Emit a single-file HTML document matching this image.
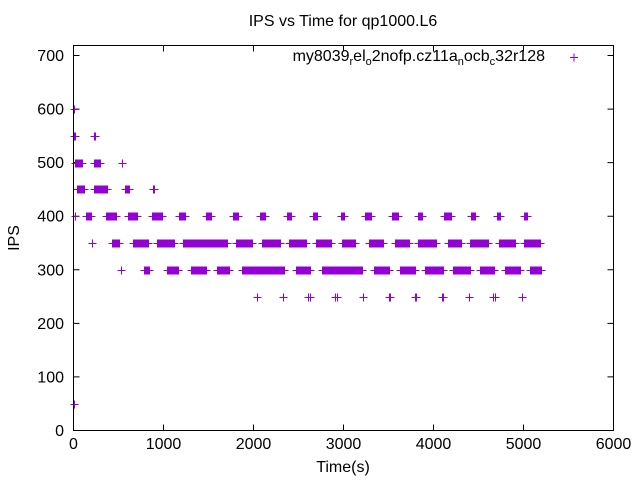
<!DOCTYPE html>
<html><head><meta charset="utf-8"><style>
body{margin:0;background:#fff}
svg{display:block;font-family:"Liberation Sans",sans-serif}
</style></head><body>
<svg id="chart" width="640" height="480" viewBox="0 0 640 480">
<rect x="0" y="0" width="640" height="480" fill="#fff"/>
<text x="343" y="26" text-anchor="middle" font-size="16">IPS vs Time for qp1000.L6</text>
<text x="343" y="472" text-anchor="middle" font-size="16">Time(s)</text>
<text transform="translate(19,238) rotate(-90)" text-anchor="middle" font-size="16">IPS</text>
<g id="axes"></g>
<g id="marks"></g>
<rect x="73.5" y="45.5" width="540" height="385" fill="none" stroke="#000" stroke-width="1"/>
<text x="545" y="61" text-anchor="end" font-size="16">my8039<tspan dy="4" font-size="11">r</tspan><tspan dy="-4">el</tspan><tspan dy="4" font-size="11">o</tspan><tspan dy="-4">2nofp.cz11a</tspan><tspan dy="4" font-size="11">n</tspan><tspan dy="-4">ocb</tspan><tspan dy="4" font-size="11">c</tspan><tspan dy="-4">32r128</tspan></text>
<path d="M570,57.5h8M574,53.5v8" stroke="#9400d3" stroke-width="1"/>
</svg>
<script>
// Levels (IPS) and time-ranges [start,end] (s) of continuous runs of samples
const levels = [600, 550, 500, 450, 400, 350, 300, 250, 50];
const runs600 = [[0,0]];
const runs550 = [[0,20],[233,244]];
const runs500 = [[22,89],[233,289],[544,544]];
const runs450 = [[44,122],[233,367],[567,622],[878,889]];
const runs400 = [[20,20],[144,189],[356,467],[611,711],[867,978],[1167,1244],[1467,1533],[1767,1833],[2067,2133],[2367,2422],[2656,2700],[2967,3000],[3244,3300],[3544,3600],[3833,3867],[4122,4189],[4422,4456],[4711,4744],[5000,5044]];
const runs350 = [[200,200],[433,511],[656,833],[933,1122],[1222,1700],[1800,1978],[2089,2289],[2389,2578],[2689,2856],[2978,3133],[3278,3444],[3567,3733],[3833,4033],[4156,4300],[4411,4611],[4733,4900],[5011,5178]];
const runs300 = [[533,533],[778,844],[1044,1156],[1311,1467],[1589,1733],[1867,2344],[2467,2633],[2756,3200],[3344,3511],[3633,3789],[3900,4111],[4222,4400],[4522,4667],[4789,4956],[5067,5189]];
const runs250 = [[2044,2044],[2333,2333],[2600,2600],[2633,2633],[2900,2900],[2933,2933],[3222,3222],[3500,3500],[3522,3522],[3789,3789],[3811,3811],[4089,4089],[4111,4111],[4389,4389],[4656,4656],[4678,4678],[4978,4978]];
const runs50 = [[0,0]];
const xTicks = [0,1000,2000,3000,4000,5000,6000];
const yTicks = [0,100,200,300,400,500,600,700];

const NS='http://www.w3.org/2000/svg';
const X0=73.5, X1=613.5, Y0=430.5;
const xs = t => X0 + t*(X1-X0)/6000;
const ys = v => Y0 - v*375/700;
const axes=document.getElementById('axes');
const marks=document.getElementById('marks');
function mk(tag,attrs,parent){const e=document.createElementNS(NS,tag);for(const k in attrs)e.setAttribute(k,attrs[k]);parent.appendChild(e);return e;}

xTicks.forEach(v=>{
  const x=xs(v);
  const t=mk('path',{d:`M${x},${Y0}v-6M${x},45.5v6`,stroke:'#000'},axes);
  
  
  const l=mk('text',{x:x,y:449,'text-anchor':'middle','font-size':16},axes);
  l.textContent=v;
  
  
});
yTicks.forEach(v=>{
  const y=ys(v);
  const t=mk('path',{d:`M${X0},${y}h6M${X1},${y}h-6`,stroke:'#000'},axes);
  
  
  const l=mk('text',{x:64,y:y+5.5,'text-anchor':'end','font-size':16},axes);
  l.textContent=v;
  
  
});

const allRuns=[runs600,runs550,runs500,runs450,runs400,runs350,runs300,runs250,runs50];
levels.forEach((lv,i)=>{
  let d='';
  const y=Math.round(ys(lv))+0.5;
  allRuns[i].forEach(([a,b])=>{
    for(let t=a;t<=b;t+=8){
      const x=Math.round(xs(t))+0.5;
      d+=`M${x-4},${y}h8M${x},${y-4}v8`;
    }
    if((b-a)%8!==0){const x=Math.round(xs(b))+0.5;d+=`M${x-4},${y}h8M${x},${y-4}v8`;}
  });
  const p=mk('path',{d:d,stroke:'#9400d3','stroke-width':1,fill:'none'},marks);
  
  
});
</script>
</body></html>
